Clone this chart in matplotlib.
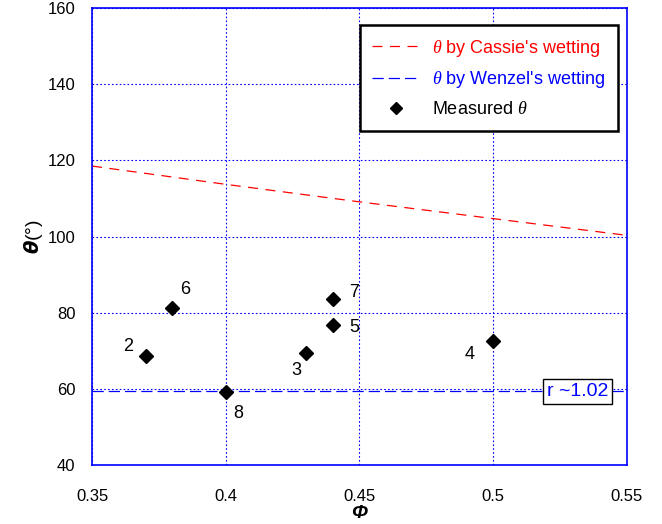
import numpy as np
import matplotlib.pyplot as plt

plt.rcParams['font.family'] = ['Liberation Sans', 'DejaVu Sans']
plt.rcParams['mathtext.fontset'] = 'custom'
plt.rcParams['mathtext.it'] = 'Liberation Serif:italic'
plt.rcParams['mathtext.rm'] = 'Liberation Sans'
plt.rcParams['mathtext.bfit'] = 'DejaVu Sans:italic:bold'

# measured contact angles
phi_meas = [0.37, 0.38, 0.40, 0.43, 0.44, 0.44, 0.50]
theta_meas = [68.6, 81.2, 59.2, 69.4, 83.6, 76.8, 72.6]
sample_ids = ['2', '6', '8', '3', '7', '5', '4']
label_pos = [(0.3635, 71.2), (0.3848, 86.0), (0.4046, 53.4), (0.4263, 64.9),
             (0.448, 85.4), (0.448, 76.0), (0.4913, 69.1)]

# model curves
phi_model = [0.35, 0.40, 0.45, 0.50, 0.55]
theta_cassie = [118.5, 113.7, 109.1, 104.7, 100.3]
theta_wenzel = [59.4, 59.4, 59.4, 59.4, 59.4]

fig = plt.figure(figsize=(6.62, 5.24), dpi=100)
ax = fig.add_axes([0.139, 0.1126, 0.808, 0.8721])

ax.plot(phi_model, theta_cassie, color='#ff0000', lw=0.9, dashes=(8, 6),
        label=r"$\theta$ by Cassie's wetting")
ax.plot(phi_model, theta_wenzel, color='#0000ff', lw=0.9, dashes=(9, 4),
        label=r"$\theta$ by Wenzel's wetting")
ax.plot(phi_meas, theta_meas, 'D', color='black', ms=7, ls='none',
        label=r"Measured $\theta$")

for s, (x, y) in zip(sample_ids, label_pos):
    ax.text(x, y, s, fontsize=13, ha='center', va='center')

ax.text(0.5315, 59.4, 'r ~1.02', color='#0000ff', fontsize=14, ha='center', va='center',
        bbox=dict(boxstyle='square,pad=0.2', fc='white', ec='black', lw=1))

ax.set_xlim(0.35, 0.55)
ax.set_ylim(40, 160)
ax.set_xticks([0.35, 0.4, 0.45, 0.5, 0.55])
ax.set_xticklabels(['0.35', '0.4', '0.45', '0.5', '0.55'])
ax.set_yticks(np.arange(40, 161, 20))
ax.tick_params(labelsize=12, length=0)
ax.tick_params(axis='x', pad=17)
ax.tick_params(axis='y', pad=12)
ax.grid(True, color='#0000ff', ls=(0, (1.5, 2)), lw=0.8)
for sp in ax.spines.values():
    sp.set_color('#0000ff')
    sp.set_linewidth(1.2)

ax.set_xlabel('Φ', fontsize=14, fontstyle='italic', fontweight='bold', labelpad=1)
ax.set_ylabel(r'$\boldsymbol{\theta}$(°)', fontsize=14, labelpad=2)

leg = ax.legend(loc='upper right', bbox_to_anchor=(0.983, 0.963), borderaxespad=0,
                fancybox=False, edgecolor='black', fontsize=13, handlelength=2.6,
                handletextpad=0.7, borderpad=0.7, labelspacing=0.6, framealpha=1,
                markerscale=0.85)
leg.get_frame().set_linewidth(1.8)
for t, c in zip(leg.get_texts(), ['#ff0000', '#0000ff', 'black']):
    t.set_color(c)

fig.savefig('out.png', dpi=100)
